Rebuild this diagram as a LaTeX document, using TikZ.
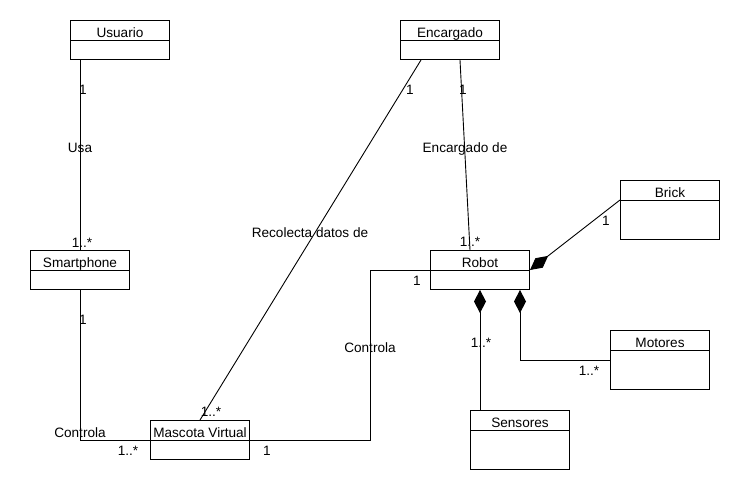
\documentclass[tikz,border=0pt]{standalone}
\usepackage{fontspec}
\setmainfont{Liberation Sans}
\usetikzlibrary{arrows.meta}
\tikzset{
  classbox/.style={draw, line width=1pt, minimum width=99pt, inner sep=0pt, anchor=north west},
  title/.style={anchor=base, inner sep=0pt, font=\fontsize{13.6}{16}\selectfont},
  lbl/.style={anchor=base, inner sep=0pt, font=\fontsize{13.6}{16}\selectfont},
  assoc/.style={line width=0.9pt},
  comp/.style={line width=0.9pt, {Diamond[length=23pt,width=12pt]}-},
}
\newcommand\umlclass[5]{%
  \node[classbox, minimum height=#4pt] (#1) at (#2,#3) {};
  \draw[line width=1pt] ([yshift=-20pt]#1.north west) -- ([yshift=-20pt]#1.north east);
  \node[title] (#1-t) at ([yshift=-17pt]#1.north) {#5};
}
\begin{document}
\begin{tikzpicture}[x=1pt,y=-1pt]
\useasboundingbox (0,0) rectangle (740,490);
\umlclass{usuario}{70}{20}{39}{Usuario}
\umlclass{encargado}{400}{20}{39}{Encargado}
\umlclass{brick}{620}{180}{59}{Brick}
\umlclass{robot}{430}{250}{39}{Robot}
\umlclass{smartphone}{30}{250}{39}{Smartphone}
\umlclass{mascota}{150}{420}{39}{Mascota Virtual}
\umlclass{motores}{610}{330}{59}{Motores}
\umlclass{sensores}{470}{410}{59}{Sensores}
\coordinate (mr) at (370,270);
% associations
\draw[assoc] ([xshift=10pt]usuario.south west) -- ([xshift=50pt]smartphone.north west);
\draw[assoc] ([xshift=50pt]smartphone.south west) |- ([yshift=-20pt]mascota.north west);
\draw[assoc] ([yshift=-20pt]mascota.north east) -| (mr) -- ([yshift=-20pt]robot.north west);
\draw[assoc] ([xshift=21pt]encargado.south west) -- ([xshift=50pt]mascota.north west);
\draw[assoc] ([xshift=60pt]encargado.south west) -- ([xshift=40pt]robot.north west);
% compositions
\draw[comp] ([yshift=-20pt]robot.north east) -- ([yshift=-20pt]brick.north west);
\draw[comp] ([xshift=50pt]robot.south west) -- ([xshift=10pt]sensores.north west);
\draw[comp] ([xshift=90pt]robot.south west) |- ([yshift=-30pt]motores.north west);
% labels
\node[lbl] (l1) at (83,94) {1};
\node[lbl] (l2) at (80,152) {Usa};
\node[lbl] (l3) at (82,247) {1..*};
\node[lbl] (l4) at (83,324) {1};
\node[lbl] (l5) at (80,437) {Controla};
\node[lbl] (l6) at (128,455) {1..*};
\node[lbl] (l7) at (211,416) {1..*};
\node[lbl] (l8) at (267,455) {1};
\node[lbl] (l9) at (370,352) {Controla};
\node[lbl] (l10) at (417,285) {1};
\node[lbl] (l11) at (410,94) {1};
\node[lbl] (l12) at (463,94) {1};
\node[lbl] (l13) at (465,152) {Encargado de};
\node[lbl] (l14) at (310,237) {Recolecta datos de};
\node[lbl] (l15) at (470,246) {1..*};
\node[lbl] (l16) at (606,225) {1};
\node[lbl] (l17) at (481,347) {1..*};
\node[lbl] (l18) at (589,375) {1..*};
\end{tikzpicture}
\end{document}
